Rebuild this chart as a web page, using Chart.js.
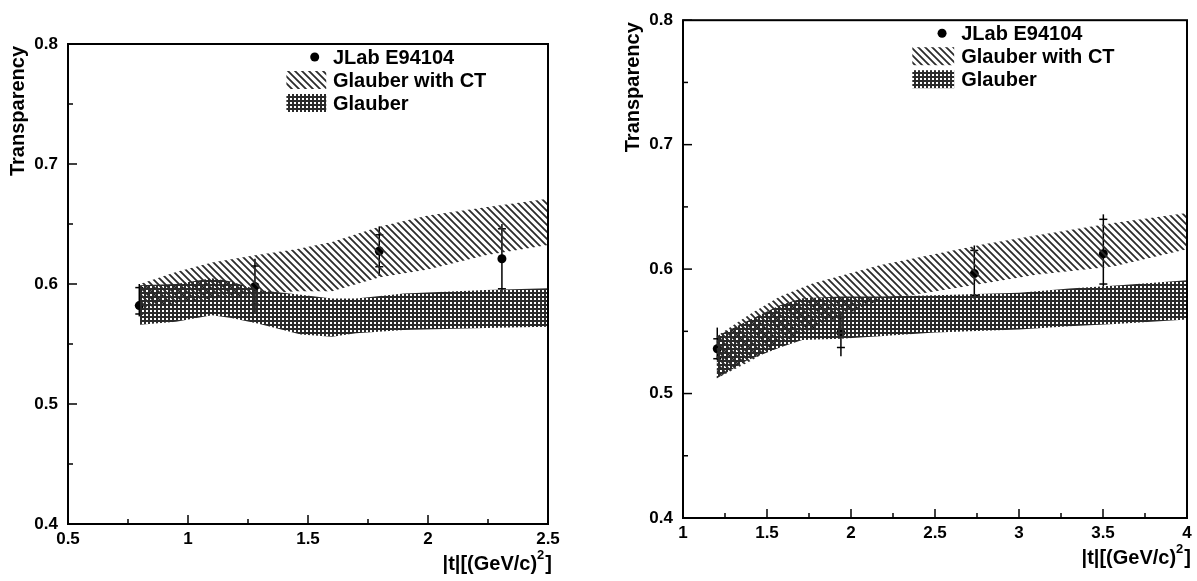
<!DOCTYPE html>
<html>
<head>
<meta charset="utf-8">
<script src="https://cdn.jsdelivr.net/npm/chart.js@4.4.1/dist/chart.umd.min.js"></script>
<style>
  html, body { margin: 0; padding: 0; background: #fff; }
  #wrap { position: relative; width: 1197px; height: 581px; overflow: hidden; }
  canvas { position: absolute; top: 0; }
</style>
</head>
<body>
<div id="wrap">
  <canvas id="leftChart" width="598" height="581" style="left:0"></canvas>
  <canvas id="rightChart" width="599" height="581" style="left:598px"></canvas>
</div>
<script>
// ---- left panel ----
const leftXTicks = [0.5, 1, 1.5, 2, 2.5];
const leftYTicks = [0.4, 0.5, 0.6, 0.7, 0.8];

// JLab E94104 points
const leftT = [0.797, 1.279, 1.797, 2.308];
const leftTr = [0.582, 0.598, 0.6275, 0.621];
const leftTotHi = [0.600, 0.621, 0.648, 0.650];
const leftTotLo = [0.573, 0.576, 0.6067, 0.5925];
const leftStatHi = [0.597, 0.615, 0.641, 0.646];
const leftStatLo = [0.575, 0.583, 0.6144, 0.596];

// Glauber with CT band
const leftCtT = [0.8, 0.95, 1.1, 1.28, 1.45, 1.6, 1.8, 2.0, 2.24, 2.5];
const leftCtHi = [0.600, 0.610, 0.618, 0.624, 0.629, 0.635, 0.648, 0.657, 0.664, 0.671];
const leftCtLo = [0.580, 0.584, 0.588, 0.591, 0.594, 0.594, 0.6056, 0.612, 0.624, 0.6325];

// Glauber band
const leftGlT = [0.8, 0.95, 1.1, 1.18, 1.29, 1.47, 1.6, 1.7, 1.9, 2.24, 2.5];
const leftGlHi = [0.599, 0.600, 0.6047, 0.602, 0.595, 0.591, 0.588, 0.588, 0.592, 0.595, 0.5965];
const leftGlLo = [0.566, 0.5686, 0.574, 0.5717, 0.567, 0.558, 0.556, 0.559, 0.5617, 0.5633, 0.5644];

// ---- right panel ----
const rightXTicks = [1, 1.5, 2, 2.5, 3, 3.5, 4];
const rightYTicks = [0.4, 0.5, 0.6, 0.7, 0.8];

const rightT = [1.204, 1.94, 2.734, 3.502];
const rightTr = [0.536, 0.549, 0.5964, 0.6123];
const rightTotHi = [0.553, 0.566, 0.619, 0.644];
const rightTotLo = [0.527, 0.530, 0.576, 0.586];
const rightStatHi = [0.544, 0.561, 0.615, 0.640];
const rightStatLo = [0.528, 0.537, 0.579, 0.588];

const rightCtT = [1.2, 1.4, 1.577, 1.77, 2.17, 2.79, 3.1, 3.56, 4.0];
const rightCtHi = [0.546, 0.564, 0.578, 0.5885, 0.603, 0.620, 0.627, 0.637, 0.645];
const rightCtLo = [0.512, 0.526, 0.540, 0.552, 0.575, 0.5885, 0.5955, 0.602, 0.616];

const rightGlT = [1.2, 1.38, 1.577, 1.71, 1.94, 2.17, 2.5, 3.0, 3.3, 3.6, 4.0];
const rightGlHi = [0.546, 0.558, 0.571, 0.5766, 0.578, 0.578, 0.579, 0.581, 0.5845, 0.587, 0.591];
const rightGlLo = [0.512, 0.5265, 0.537, 0.543, 0.544, 0.546, 0.549, 0.5515, 0.554, 0.556, 0.5595];

const FONT = "'Liberation Sans', Arial, sans-serif";

// diagonal "\\\" hatching for Glauber with CT
function hatchPattern() {
  const s = 7;
  const c = document.createElement("canvas");
  c.width = s; c.height = s;
  const g = c.getContext("2d");
  g.strokeStyle = "#2b2b2b";
  g.lineWidth = 1.8;
  g.beginPath();
  g.moveTo(0, 0); g.lineTo(s, s);
  g.moveTo(-2, s - 2); g.lineTo(2, s + 2);
  g.moveTo(s - 2, -2); g.lineTo(s + 2, 2);
  g.stroke();
  return g.createPattern(c, "repeat");
}

// fine cross-hatch for Glauber
function gridPattern() {
  const c = document.createElement("canvas");
  c.width = 4; c.height = 4;
  const g = c.getContext("2d");
  g.fillStyle = "#2a2a2a";
  g.fillRect(0, 0, 2, 4);
  g.fillRect(0, 0, 4, 2);
  return g.createPattern(c, "repeat");
}

const ctFill = hatchPattern();
const glFill = gridPattern();

function band(xs, lo, hi, fill) {
  const base = { borderWidth: 0, borderColor: "transparent", pointRadius: 0, tension: 0 };
  return [
    { ...base, data: xs.map((x, i) => ({ x, y: lo[i] })), fill: false },
    { ...base, data: xs.map((x, i) => ({ x, y: hi[i] })), fill: "-1", backgroundColor: fill }
  ];
}

function makePanel(id, p) {
  const pointsIndex = 4;

  const errorBars = {
    id: "errorBars",
    beforeDatasetDraw(chart, args) {
      if (args.index !== pointsIndex) return;
      const { ctx, scales: { x, y } } = chart;
      ctx.save();
      ctx.strokeStyle = "#000";
      ctx.lineWidth = 1.5;
      p.t.forEach((tv, i) => {
        const px = x.getPixelForValue(tv);
        ctx.beginPath();
        ctx.moveTo(px, y.getPixelForValue(p.totLo[i]));
        ctx.lineTo(px, y.getPixelForValue(p.totHi[i]));
        ctx.stroke();
        [p.statLo[i], p.statHi[i]].forEach((v) => {
          const py = y.getPixelForValue(v);
          ctx.beginPath();
          ctx.moveTo(px - 4, py);
          ctx.lineTo(px + 4, py);
          ctx.stroke();
        });
      });
      ctx.restore();
    }
  };

  // ROOT style frame with inward ticks, axis titles, legend
  const decor = {
    id: "decor",
    afterDraw(chart) {
      const { ctx, chartArea: a, scales: { x, y } } = chart;
      ctx.save();
      ctx.strokeStyle = "#000";
      ctx.lineWidth = 2;
      ctx.strokeRect(a.left, a.top, a.right - a.left, a.bottom - a.top);

      ctx.lineWidth = 1.5;
      const xt = p.xTicks, yt = p.yTicks;
      xt.forEach((v, i) => {
        const px = x.getPixelForValue(v);
        ctx.beginPath(); ctx.moveTo(px, a.bottom); ctx.lineTo(px, a.bottom - 9); ctx.stroke();
        if (i < xt.length - 1) {
          const pm = x.getPixelForValue((v + xt[i + 1]) / 2);
          ctx.beginPath(); ctx.moveTo(pm, a.bottom); ctx.lineTo(pm, a.bottom - 5); ctx.stroke();
        }
      });
      yt.forEach((v, i) => {
        const py = y.getPixelForValue(v);
        ctx.beginPath(); ctx.moveTo(a.left, py); ctx.lineTo(a.left + 9, py); ctx.stroke();
        if (i < yt.length - 1) {
          const pm = y.getPixelForValue((v + yt[i + 1]) / 2);
          ctx.beginPath(); ctx.moveTo(a.left, pm); ctx.lineTo(a.left + 5, pm); ctx.stroke();
        }
      });

      ctx.fillStyle = "#000";
      // y title
      ctx.save();
      ctx.font = "bold 20px " + FONT;
      ctx.translate(a.left - 50, a.top + 2);
      ctx.rotate(-Math.PI / 2);
      ctx.textAlign = "right";
      ctx.textBaseline = "middle";
      ctx.fillText("Transparency", 0, 0);
      ctx.restore();

      // x title with superscript
      const base = "|t|[(GeV/c)", sup = "2", end = "]";
      ctx.font = "bold 20px " + FONT;
      const wBase = ctx.measureText(base).width, wEnd = ctx.measureText(end).width;
      ctx.font = "bold 13px " + FONT;
      const wSup = ctx.measureText(sup).width;
      let tx = a.right + 4 - (wBase + wSup + 1 + wEnd);
      const ty = a.bottom + 46;
      ctx.textBaseline = "alphabetic";
      ctx.textAlign = "left";
      ctx.font = "bold 20px " + FONT;
      ctx.fillText(base, tx, ty);
      ctx.font = "bold 13px " + FONT;
      ctx.fillText(sup, tx + wBase, ty - 11);
      ctx.font = "bold 20px " + FONT;
      ctx.fillText(end, tx + wBase + wSup + 1, ty);

      // legend
      const w = a.right - a.left;
      const xDot = a.left + 0.514 * w, xText = a.left + 0.552 * w;
      const xs0 = a.left + 0.455 * w, xs1 = a.left + 0.538 * w;
      const rows = [a.top + 13, a.top + 36, a.top + 59];
      ctx.beginPath();
      ctx.arc(xDot, rows[0], 4.5, 0, Math.PI * 2);
      ctx.fill();
      ctx.fillStyle = ctFill;
      ctx.fillRect(xs0, rows[1] - 9, xs1 - xs0, 18);
      ctx.fillStyle = glFill;
      ctx.fillRect(xs0, rows[2] - 9, xs1 - xs0, 18);
      ctx.fillStyle = "#000";
      ctx.font = "bold 20px " + FONT;
      ctx.textBaseline = "middle";
      ["JLab E94104", "Glauber with CT", "Glauber"].forEach((s, i) => ctx.fillText(s, xText, rows[i] + 1));
      ctx.restore();
    }
  };

  const tickFont = { family: FONT, weight: "bold", size: 17 };

  new Chart(document.getElementById(id), {
    type: "line",
    data: {
      datasets: [
        ...band(p.ctT, p.ctLo, p.ctHi, ctFill),
        ...band(p.glT, p.glLo, p.glHi, glFill),
        {
          label: "JLab E94104",
          data: p.t.map((x, i) => ({ x, y: p.tr[i] })),
          showLine: false,
          pointRadius: 4.5,
          pointBackgroundColor: "#000",
          pointBorderWidth: 0
        }
      ]
    },
    options: {
      responsive: false,
      animation: false,
      events: [],
      devicePixelRatio: 1,
      layout: { padding: p.padding },
      plugins: { legend: { display: false }, tooltip: { enabled: false } },
      scales: {
        x: {
          type: "linear",
          min: p.xTicks[0],
          max: p.xTicks[p.xTicks.length - 1],
          afterBuildTicks: (s) => { s.ticks = p.xTicks.map((v) => ({ value: v })); },
          afterFit: (s) => { s.height = p.xHeight; },
          grid: { display: false, drawTicks: false },
          border: { display: false },
          ticks: { font: tickFont, color: "#000", padding: 5, maxRotation: 0, callback: (v) => String(v) }
        },
        y: {
          type: "linear",
          min: p.yTicks[0],
          max: p.yTicks[p.yTicks.length - 1],
          afterBuildTicks: (s) => { s.ticks = p.yTicks.map((v) => ({ value: v })); },
          afterFit: (s) => { s.width = p.yWidth; },
          grid: { display: false, drawTicks: false },
          border: { display: false },
          ticks: { font: tickFont, color: "#000", padding: 10, callback: (v) => String(v) }
        }
      }
    },
    plugins: [errorBars, decor]
  });
}

makePanel("leftChart", {
  xTicks: leftXTicks, yTicks: leftYTicks,
  t: leftT, tr: leftTr, totHi: leftTotHi, totLo: leftTotLo, statHi: leftStatHi, statLo: leftStatLo,
  ctT: leftCtT, ctHi: leftCtHi, ctLo: leftCtLo,
  glT: leftGlT, glHi: leftGlHi, glLo: leftGlLo,
  padding: { top: 44, right: 50, left: 0, bottom: 0 },
  yWidth: 68, xHeight: 57
});

makePanel("rightChart", {
  xTicks: rightXTicks, yTicks: rightYTicks,
  t: rightT, tr: rightTr, totHi: rightTotHi, totLo: rightTotLo, statHi: rightStatHi, statLo: rightStatLo,
  ctT: rightCtT, ctHi: rightCtHi, ctLo: rightCtLo,
  glT: rightGlT, glHi: rightGlHi, glLo: rightGlLo,
  padding: { top: 13.5, right: 10, left: 0, bottom: 0 },
  yWidth: 85, xHeight: 63
});
</script>
</body>
</html>
